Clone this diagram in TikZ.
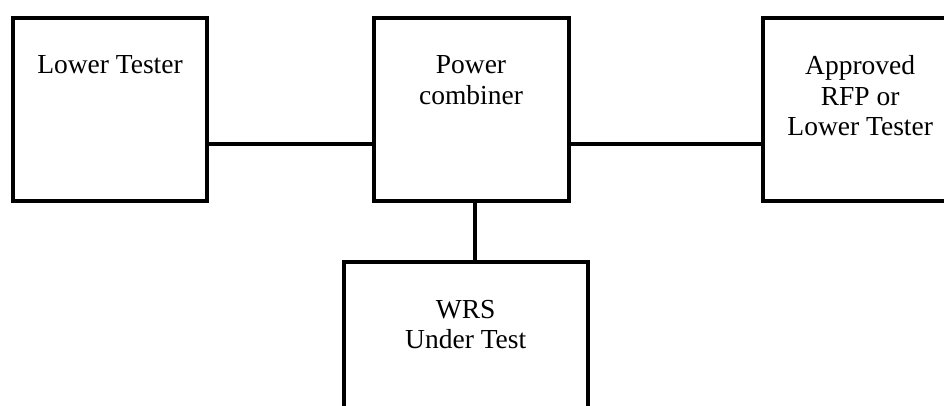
\documentclass[tikz,border=0pt]{standalone}
\usepackage{fontspec}
\setmainfont{Liberation Serif}
\usetikzlibrary{positioning}

\begin{document}
\begin{tikzpicture}[x=1pt, y=1pt, line width=4pt,
        box/.style={draw, rectangle, minimum width=195pt, minimum height=183.6pt},
        boxtext/.style={inner sep=0pt, outer sep=0pt, align=center, anchor=north,
            font=\fontsize{27.5pt}{30.5pt}\selectfont}]
                \useasboundingbox (0,0) rectangle (944,-405);

                %Nodes
                \node[box, minimum width=194pt] at (110,-109.5) (LT) {};
                \node[box] at (471,-109.5) (PC) {};
                \node[box] at (860.2,-109.5) (RFP) {};
                \node[box, minimum width=244pt] at (465.7,-354) (WRS) {};

                %Texts
                \node[boxtext, below=40pt of LT.north] (LTtext) {Lower Tester};
                \node[boxtext, below=40pt of PC.north] (PCtext) {Power\\combiner};
                \node[boxtext, below=40pt of RFP.north] (RFPtext) {Approved\\RFP or\\Lower Tester};
                \node[boxtext, below=40pt of WRS.north] (WRStext) {WRS\\Under Test};

                %Lines
                \draw ([yshift=-34.5pt]LT.east) -- ([yshift=-34.5pt]PC.west);
                \draw ([yshift=-34.5pt]PC.east) -- ([yshift=-34.5pt]RFP.west);
                \draw ([xshift=4pt]PC.south) -- ([xshift=4pt]PC.south |- WRS.north);
            \end{tikzpicture}
\end{document}
